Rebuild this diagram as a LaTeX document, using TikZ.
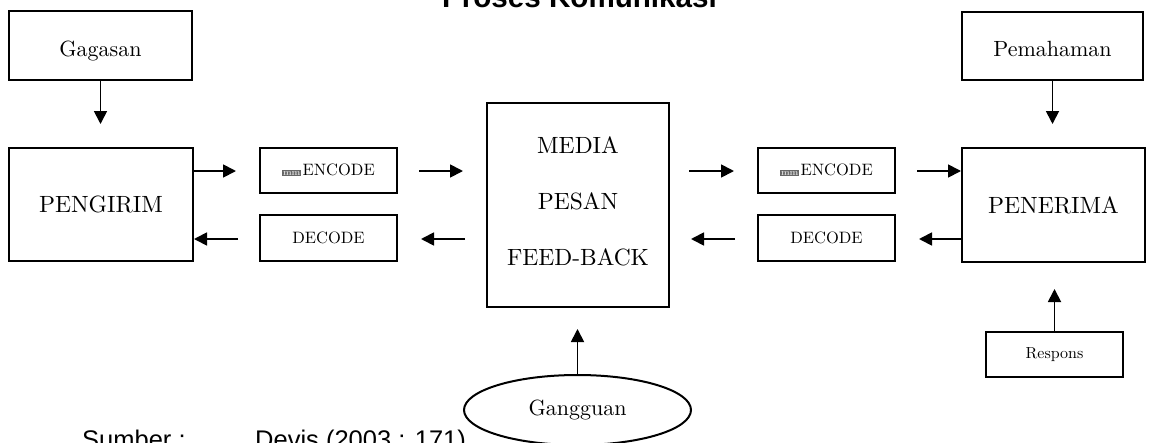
\documentclass[tikz,border=0pt]{standalone}
\usepackage{fontspec}
\setmainfont{lmroman10}[Extension=.otf, UprightFont=*-regular, BoldFont=*-bold, ItalicFont=*-italic, BoldItalicFont=*-bolditalic]
\newfontfamily\arialfont{Liberation Sans}
\usetikzlibrary{arrows.meta,shapes.geometric}

\tikzset{
  box/.style={draw, line width=2pt, inner sep=0pt, text depth=0pt},
  arr/.style={line width=1.8pt, -{Triangle[length=13pt,width=13pt]}},
  bigcaps/.style={font=\fontsize{23.5}{27}\selectfont},
  word/.style={font=\fontsize{22}{26}\selectfont},
  smallcaps/.style={font=\fontsize{16.5}{19}\selectfont},
}
% small shaded mark printed in front of ENCODE
\newcommand{\encmark}{{\setlength{\fboxsep}{0.8pt}\colorbox{black!60}{\color{black!15}\fontsize{9}{9}\selectfont\textbf{mm}}}\hspace{1.5pt}}

\begin{document}
\begin{tikzpicture}[x=1pt,y=-1pt]
  \useasboundingbox (0,0) rectangle (1149,442);
  \fill[white] (0,0) rectangle (1149,442);
  \clip (0,0) rectangle (1149,442);

  % heading and source line
  \node[anchor=base, font=\arialfont\bfseries\fontsize{29.6}{34}\selectfont] (title) at (579.5,7) {Proses Komunikasi};
  \node[anchor=base west, inner sep=0pt, font=\arialfont\fontsize{25.5}{30}\selectfont] (sumber) at (82,448) {Sumber :};
  \node[anchor=base west, inner sep=0pt, font=\arialfont\fontsize{25.5}{30}\selectfont] (devis) at (255,448) {Devis (2003 : 171)};

  % arrow rows
  \coordinate (rowU) at (0,171);
  \coordinate (rowL) at (0,239);

  % sender side
  \node[box, word, minimum width=183, minimum height=69, text height=21pt] (gag) at (100.5,45.5) {Gagasan};
  \node[box, bigcaps, minimum width=184, minimum height=113, text height=15pt] (peng) at (101,204.5) {PENGIRIM};
  \node[box, smallcaps, minimum width=137, minimum height=45, text height=9pt] (encL) at (328.5,170.5) {\encmark ENCODE};
  \node[box, smallcaps, minimum width=137, minimum height=46, text height=10pt] (decL) at (328.5,238) {DECODE};

  % channel
  \node[box, align=center, minimum width=182, minimum height=204,
        text height=127.7pt, text depth=7.7pt,
        font=\fontsize{23.5}{56}\selectfont] (media) at (578,205) {MEDIA\\PESAN\\FEED-BACK};
  \node[draw, line width=2pt, ellipse, inner sep=0pt, minimum width=227, minimum height=70,
        word, text height=10pt, text depth=0pt] (gang) at (577.5,410) {Gangguan};

  % receiver side
  \node[box, smallcaps, minimum width=137, minimum height=45, text height=9pt] (encR) at (826.5,170.5) {\encmark ENCODE};
  \node[box, smallcaps, minimum width=137, minimum height=46, text height=10pt] (decR) at (826.5,238) {DECODE};
  \node[box, bigcaps, minimum width=183, minimum height=114, text height=16pt] (pen) at (1053.5,205) {PENERIMA};
  \node[box, word, minimum width=181, minimum height=68, text height=20pt] (pem) at (1052.5,46) {Pemahaman};
  \node[box, font=\fontsize{16}{19}\selectfont, minimum width=137, minimum height=45, text height=7pt] (resp) at (1054.5,354.5) {Respons};

  % vertical connectors
  \draw[arr, shorten >=23pt] (gag.south) -- (gag.south |- peng.north);
  \draw[arr, shorten >=23pt] (pem.south) -- (pem.south |- pen.north);
  \draw[arr, shorten >=26pt] (resp.north) -- (resp.north |- pen.south);
  \draw[arr, shorten >=21pt] (gang.north) -- (gang.north |- media.south);

  % forward path
  \draw[arr, shorten >=23pt] (peng.east |- rowU) -- (encL.west |- rowU);
  \draw[arr, shorten <=21pt, shorten >=23pt] (encL.east |- rowU) -- (media.west |- rowU);
  \draw[arr, shorten <=19pt, shorten >=23pt] (media.east |- rowU) -- (encR.west |- rowU);
  \draw[arr, shorten <=21pt] (encR.east |- rowU) -- (pen.west |- rowU);

  % feedback path
  \draw[arr, shorten >=23pt] (pen.west |- rowL) -- (decR.east |- rowL);
  \draw[arr, shorten <=22pt, shorten >=21pt] (decR.west |- rowL) -- (media.east |- rowL);
  \draw[arr, shorten <=21pt, shorten >=23pt] (media.west |- rowL) -- (decL.east |- rowL);
  \draw[arr, shorten <=21pt] (decL.west |- rowL) -- (peng.east |- rowL);
\end{tikzpicture}
\end{document}
